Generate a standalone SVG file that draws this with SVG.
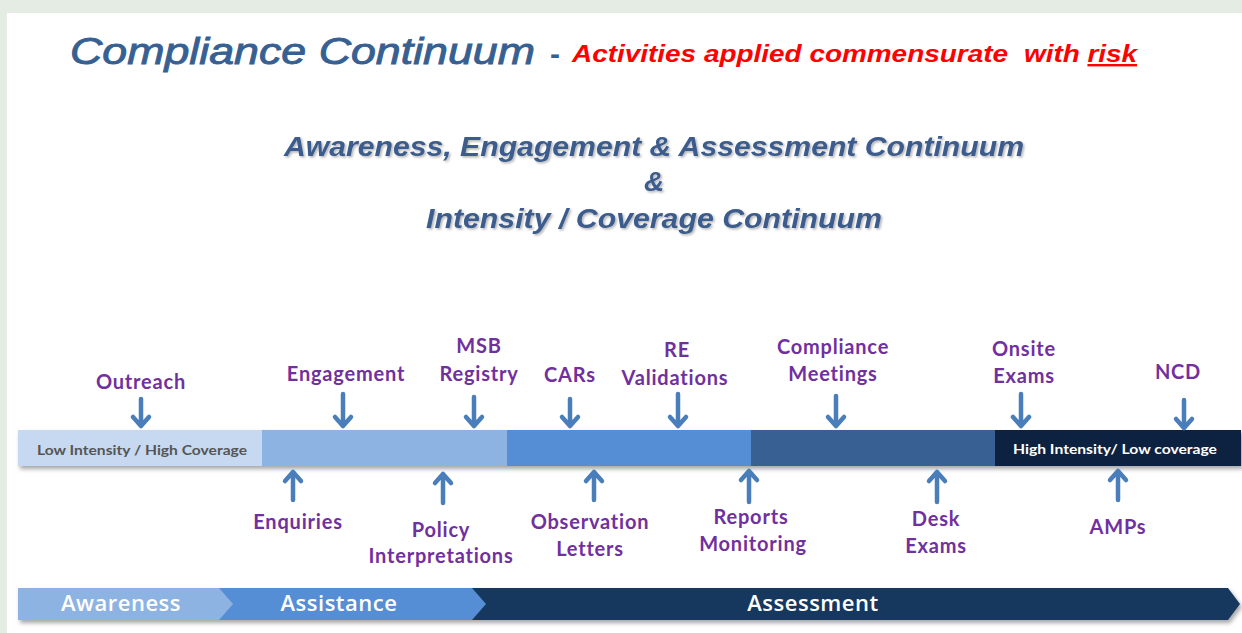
<svg xmlns="http://www.w3.org/2000/svg" width="1242" height="633" viewBox="0 0 1242 633">
<defs>
<style>
.lbl{font-family:Lato,"Open Sans","Liberation Sans",sans-serif;font-weight:bold;font-size:20px;letter-spacing:0.8px;fill:#7030A0;text-anchor:middle}
.arr{stroke:#4A7EBB;stroke-width:4.5;fill:none;stroke-linecap:round;stroke-linejoin:round}
.sub{font-family:"Liberation Sans",Arial,sans-serif;font-weight:bold;font-style:italic;font-size:28px;fill:#3B5C8C;text-anchor:middle}
.phase{font-family:"Open Sans","Liberation Sans",sans-serif;font-weight:600;font-size:22px;letter-spacing:0.5px;fill:#ffffff;text-anchor:middle}
</style>
<filter id="sh" x="-5%" y="-30%" width="110%" height="170%">
<feDropShadow dx="2" dy="3" stdDeviation="2" flood-color="#000" flood-opacity="0.35"/>
</filter>
<filter id="tsh" x="-5%" y="-30%" width="110%" height="170%">
<feDropShadow dx="1.5" dy="1.5" stdDeviation="1" flood-color="#000" flood-opacity="0.3"/>
</filter>
</defs>
<rect x="0" y="0" width="1242" height="633" fill="#E4ECE4"/>
<rect x="7" y="13" width="1235" height="620" fill="#FFFFFF"/>

<g id="title">
<text x="70" y="64" font-family="Liberation Sans,Arial,sans-serif" font-style="italic" font-size="37" fill="#376092" stroke="#376092" stroke-width="0.9" textLength="465" lengthAdjust="spacingAndGlyphs">Compliance Continuum</text>
<text x="550" y="64" font-family="Liberation Sans,Arial,sans-serif" font-weight="bold" font-size="30" fill="#376092">-</text>
<text x="572" y="62" font-family="Liberation Sans,Arial,sans-serif" font-weight="bold" font-style="italic" font-size="24" fill="#FF0000" textLength="436" lengthAdjust="spacingAndGlyphs">Activities applied commensurate</text>
<text x="1024" y="62" font-family="Liberation Sans,Arial,sans-serif" font-weight="bold" font-style="italic" font-size="24" fill="#FF0000" textLength="113" lengthAdjust="spacingAndGlyphs">with <tspan text-decoration="underline">risk</tspan></text>
</g>

<g id="subtitle" filter="url(#tsh)">
<text class="sub" x="654" y="156" textLength="740" lengthAdjust="spacingAndGlyphs">Awareness, Engagement &amp; Assessment Continuum</text>
<text class="sub" x="654" y="191">&amp;</text>
<text class="sub" x="654" y="228" textLength="456" lengthAdjust="spacingAndGlyphs">Intensity / Coverage Continuum</text>
</g>

<g id="bar" filter="url(#sh)">
<rect x="18" y="430" width="245" height="36" fill="#C6D9F1"/>
<rect x="262" y="430" width="246" height="36" fill="#8DB3E2"/>
<rect x="507" y="430" width="245" height="36" fill="#558ED5"/>
<rect x="751" y="430" width="245" height="36" fill="#376092"/>
<rect x="995" y="430" width="246" height="36" fill="#10243F"/>
</g>
<g id="bar-labels">
<text x="142" y="455" font-family="Lato,'Open Sans','Liberation Sans',sans-serif" font-weight="bold" font-size="14" fill="#555555" text-anchor="middle" textLength="210" lengthAdjust="spacingAndGlyphs">Low Intensity  / High Coverage</text>
<text x="1115" y="454" font-family="Lato,'Open Sans','Liberation Sans',sans-serif" font-weight="bold" font-size="14" fill="#FFFFFF" text-anchor="middle" textLength="204" lengthAdjust="spacingAndGlyphs">High Intensity/ Low coverage</text>
</g>

<g id="connectors">
<path class="arr" d="M141 399V426M133 417L141 426L149 417"/>
<path class="arr" d="M343 394V426M335 417L343 426L351 417"/>
<path class="arr" d="M474 397V426M466 417L474 426L482 417"/>
<path class="arr" d="M570 399V426M562 417L570 426L578 417"/>
<path class="arr" d="M678 394V426M670 417L678 426L686 417"/>
<path class="arr" d="M836 396V426M828 417L836 426L844 417"/>
<path class="arr" d="M1021 394V426M1013 417L1021 426L1029 417"/>
<path class="arr" d="M1184 400V428M1176 419L1184 428L1192 419"/>
<path class="arr" d="M293 500V472M285 481L293 472L301 481"/>
<path class="arr" d="M443 503V474M435 483L443 474L451 483"/>
<path class="arr" d="M594 500V472M586 481L594 472L602 481"/>
<path class="arr" d="M749 502V471M741 480L749 471L757 480"/>
<path class="arr" d="M937 502V472M929 481L937 472L945 481"/>
<path class="arr" d="M1118 500V471M1110 480L1118 471L1126 480"/>
</g>

<g id="n-outreach"><text class="lbl" x="141" y="389">Outreach</text></g>
<g id="n-engagement"><text class="lbl" x="346" y="381">Engagement</text></g>
<g id="n-msb"><text class="lbl" x="479" y="353">MSB</text><text class="lbl" x="479" y="381">Registry</text></g>
<g id="n-cars"><text class="lbl" x="570" y="382">CARs</text></g>
<g id="n-re"><text class="lbl" x="677" y="357">RE</text><text class="lbl" x="675" y="385">Validations</text></g>
<g id="n-compliance"><text class="lbl" x="833" y="354">Compliance</text><text class="lbl" x="833" y="381">Meetings</text></g>
<g id="n-onsite"><text class="lbl" x="1024" y="356">Onsite</text><text class="lbl" x="1024" y="383">Exams</text></g>
<g id="n-ncd"><text class="lbl" x="1178" y="379">NCD</text></g>
<g id="n-enquiries"><text class="lbl" x="298" y="529">Enquiries</text></g>
<g id="n-policy"><text class="lbl" x="441" y="537">Policy</text><text class="lbl" x="441" y="563">Interpretations</text></g>
<g id="n-observation"><text class="lbl" x="590" y="529">Observation</text><text class="lbl" x="590" y="556">Letters</text></g>
<g id="n-reports"><text class="lbl" x="751" y="524">Reports</text><text class="lbl" x="753" y="551">Monitoring</text></g>
<g id="n-desk"><text class="lbl" x="936" y="526">Desk</text><text class="lbl" x="936" y="553">Exams</text></g>
<g id="n-amps"><text class="lbl" x="1118" y="534">AMPs</text></g>

<g id="phases" filter="url(#sh)">
<polygon points="470,588 1228,588 1240,604 1228,620 470,620 484,604" fill="#17375E"/>
<polygon points="215,588 472,588 486,604 472,620 215,620 230,604" fill="#558ED5"/>
<polygon points="18,588 219,588 233,604 219,620 18,620" fill="#8DB3E2"/>
</g>
<g id="phase-labels">
<text class="phase" x="121" y="611">Awareness</text>
<text class="phase" x="339" y="611">Assistance</text>
<text class="phase" x="813" y="611">Assessment</text>
</g>
</svg>
